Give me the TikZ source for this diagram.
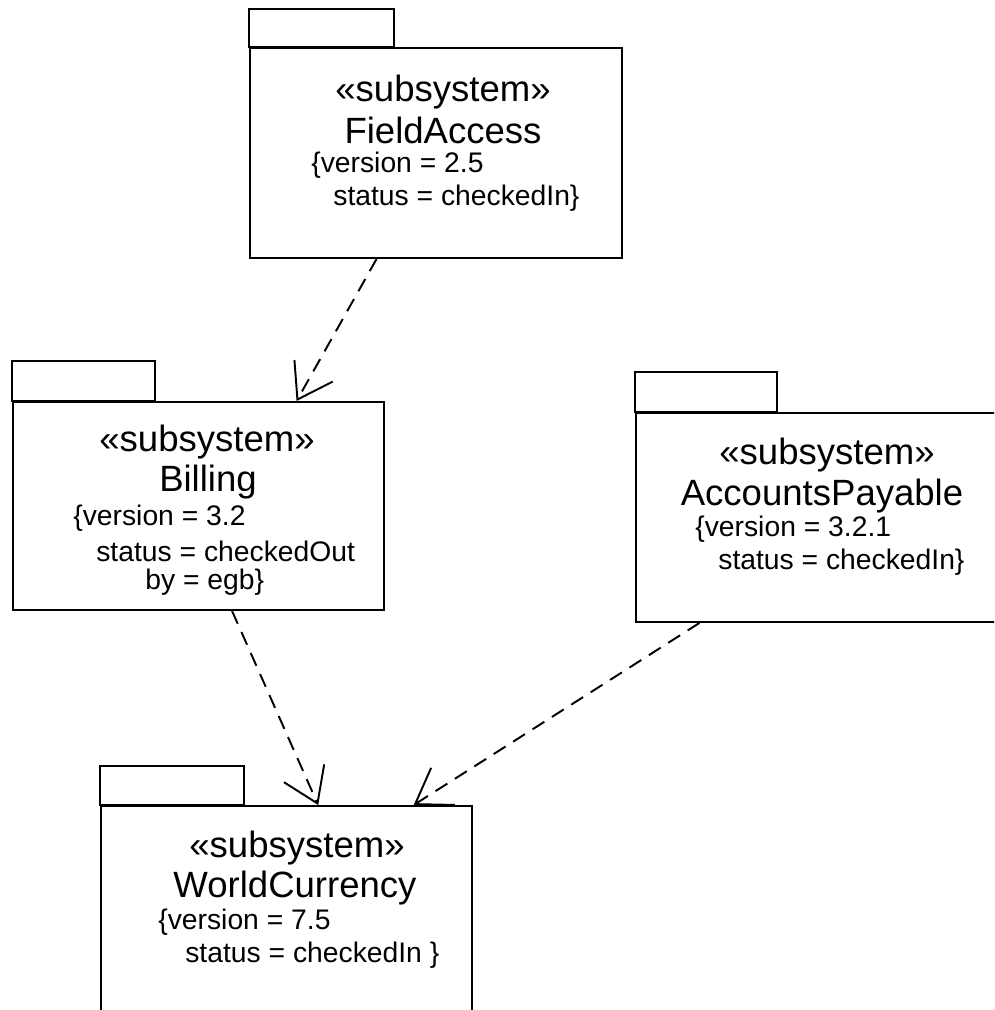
\documentclass[tikz,border=0pt]{standalone}
\usepackage{fontspec}
\setmainfont{Liberation Sans}
\usetikzlibrary{arrows.meta,calc}

\begin{document}
\begin{tikzpicture}[x=0.02cm, y=-0.02cm,
    pkg/.style={rectangle, draw, line width=1.1pt, fill=white, inner sep=0pt},
    tabline/.style={draw, line width=1.1pt},
    title/.style={inner sep=0pt, font=\fontsize{20.8}{24}\selectfont},
    prop/.style={inner sep=0pt, anchor=west, font=\fontsize{16.1}{19}\selectfont},
    dep/.style={line width=1.1pt, dash pattern=on 0.28cm off 0.18cm,
        -{Straight Barb[length=0.66cm, width=0.88cm, line width=1.1pt]}}
]
\useasboundingbox (0,0) rectangle (994,1010);
\clip (0,0) rectangle (994,1010);

% package bodies
\node[pkg, minimum width=7.44cm, minimum height=4.2cm] (field) at (436,153) {};
\node[pkg, minimum width=7.42cm, minimum height=4.16cm] (billing) at (198.5,506) {};
\node[pkg, minimum width=7.28cm, minimum height=4.18cm] (payable) at (818,517.5) {};
\node[pkg, minimum width=7.42cm, minimum height=4.28cm] (currency) at (286.5,913) {};

% tabs
\draw[tabline] (field.north west) rectangle ++(145,-38);
\draw[tabline] (billing.north west) rectangle ++(143,-40);
\draw[tabline] (payable.north west) rectangle ++(142,-40);
\draw[tabline] (currency.north west) rectangle ++(144,-39);

% FieldAccess
\node[title] (fieldst) at (443,92) {«subsystem»};
\node[title] (fieldname) at (443,130) {FieldAccess};
\node[prop] (fieldver) at (311,165) {\{version = 2.5};
\node[prop] (fieldstat) at (333,198) {status = checkedIn\}};

% Billing
\node[title] (billst) at (207,442) {«subsystem»};
\node[title] (billname) at (208,482) {Billing};
\node[prop] (billver) at (73,518) {\{version = 3.2};
\node[prop] (billstat) at (96,551) {status = checkedOut};
\node[prop] (billby) at (145,582) {by = egb\}};

% AccountsPayable
\node[title] (payst) at (827,455) {«subsystem»};
\node[title] (payname) at (822,496) {AccountsPayable};
\node[prop] (payver) at (695,529) {\{version = 3.2.1};
\node[prop] (paystat) at (718,562) {status = checkedIn\}};

% WorldCurrency
\node[title] (curst) at (297,848) {«subsystem»};
\node[title] (curname) at (295,888) {WorldCurrency};
\node[prop] (curver) at (158,922) {\{version = 7.5};
\node[prop] (curstat) at (185,955) {status = checkedIn \}};

% dependencies
\draw[dep] ($(field.south west)!0.341!(field.south east)$) -- ($(billing.north west)!0.763!(billing.north east)$);
\draw[dep] ($(billing.south west)!0.59!(billing.south east)$) -- ($(currency.north west)!0.585!(currency.north east)$);
\draw[dep] ($(payable.south west)!0.176!(payable.south east)$) -- ($(currency.north west)!0.841!(currency.north east)$);
\end{tikzpicture}
\end{document}
